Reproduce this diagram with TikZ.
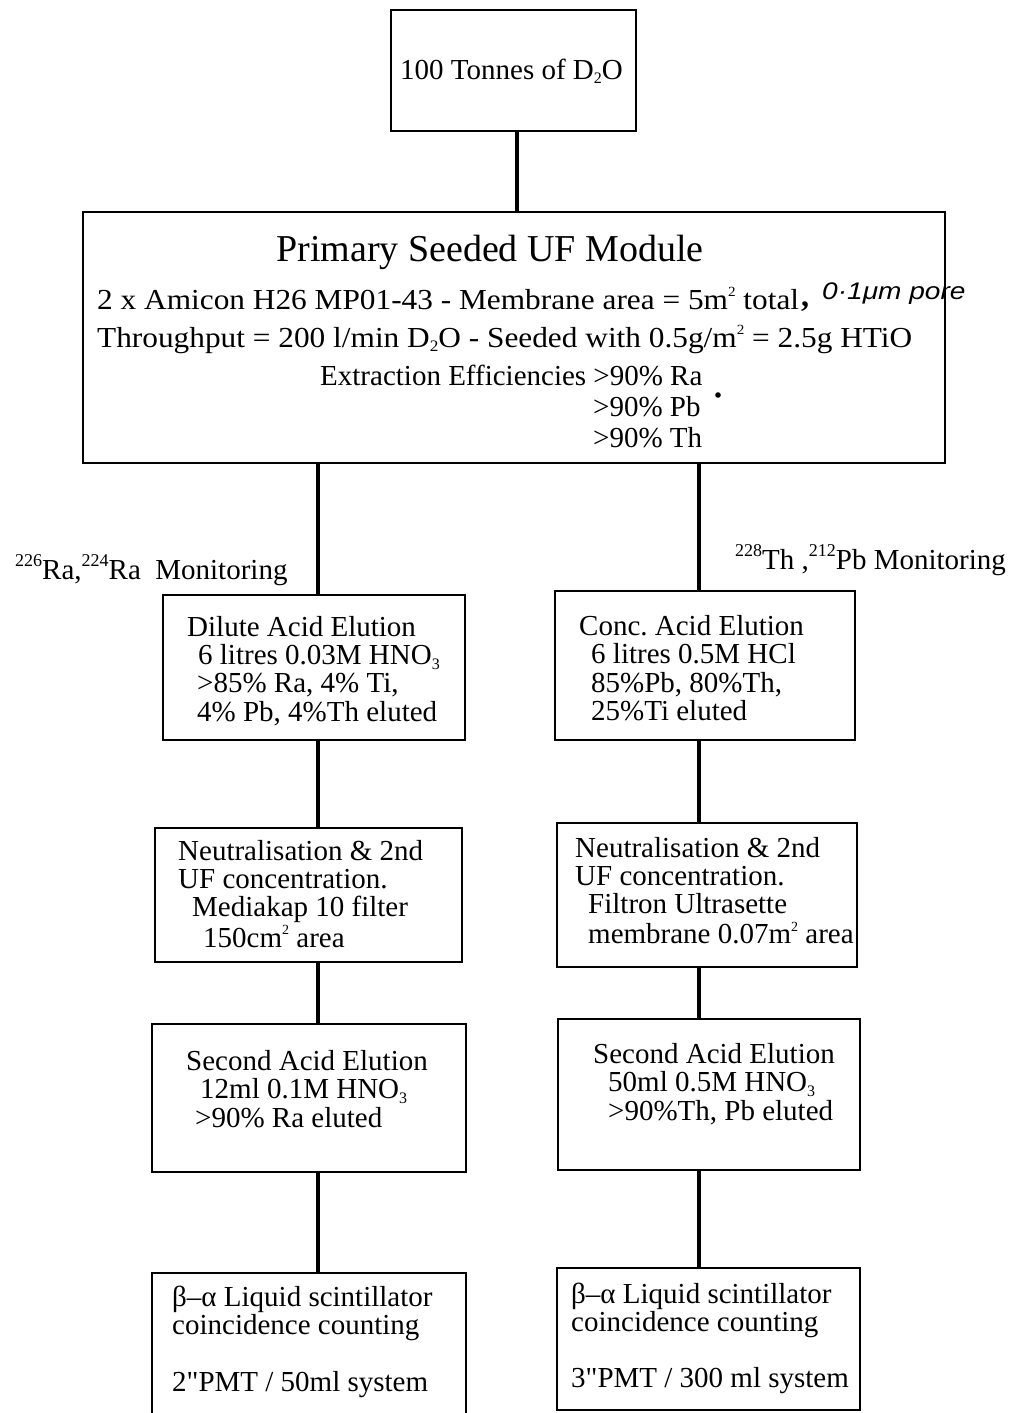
\documentclass[tikz,border=0pt]{standalone}
\usepackage{fontspec}
\setmainfont{Liberation Serif}
\newfontfamily\handfont{Liberation Sans}
\newfontfamily\qfont{Liberation Serif}[Ligatures=TeXOff]
\newcommand\tsup[1]{\raisebox{0.95ex}{\fontsize{14}{14}\selectfont #1}}
\newcommand\tsupb[1]{\raisebox{0.95ex}{\fontsize{18}{18}\selectfont #1}}
\newcommand\tsub[1]{\raisebox{-0.35ex}{\fontsize{16}{16}\selectfont #1}}
\newcommand\qq{{\qfont"}}
\begin{document}
\frenchspacing
\begin{tikzpicture}[x=1pt,y=-1pt,
  box/.style={draw, line width=2pt, rectangle, inner sep=0pt},
  conn/.style={line width=4.5pt},
  txt/.style={anchor=base west, inner sep=0pt, font=\fontsize{29}{28}\selectfont},
  ttl/.style={anchor=base, inner sep=0pt, font=\fontsize{38}{40}\selectfont},
  hand/.style={anchor=base west, inner sep=0pt, font=\handfont\itshape\fontsize{24}{24}\selectfont}
]
\useasboundingbox (0,0) rectangle (1013,1413);
\fill[white] (0,0) rectangle (1013,1413);

% boxes
\node[box, minimum width=245pt, minimum height=121pt] (top) at (513.5,70.5) {};
\node[box, minimum width=862pt, minimum height=251pt] (primary) at (514,337.5) {};
\node[box, minimum width=302pt, minimum height=145pt] (dilute) at (314,667.5) {};
\node[box, minimum width=300pt, minimum height=149pt] (conc) at (705,665.5) {};
\node[box, minimum width=307pt, minimum height=134pt] (neutL) at (308.5,895) {};
\node[box, minimum width=300pt, minimum height=144pt] (neutR) at (707,895) {};
\node[box, minimum width=314pt, minimum height=148pt] (secL) at (309,1098) {};
\node[box, minimum width=302pt, minimum height=151pt] (secR) at (709,1094.5) {};
\node[box, minimum width=314pt, minimum height=147pt] (botL) at (309,1346.5) {};
\node[box, minimum width=303pt, minimum height=142pt] (botR) at (708.5,1339) {};

% connector columns
\coordinate (cT) at (517,0);
\coordinate (cL) at (318,0);
\coordinate (cR) at (699,0);

\draw[conn] (top.south -| cT) -- (primary.north -| cT);
\draw[conn] (primary.south -| cL) -- (dilute.north -| cL);
\draw[conn] (dilute.south -| cL) -- (neutL.north -| cL);
\draw[conn] (neutL.south -| cL) -- (secL.north -| cL);
\draw[conn] (secL.south -| cL) -- (botL.north -| cL);
\draw[conn] (primary.south -| cR) -- (conc.north -| cR);
\draw[conn] (conc.south -| cR) -- (neutR.north -| cR);
\draw[conn] (neutR.south -| cR) -- (secR.north -| cR);
\draw[conn] (secR.south -| cR) -- (botR.north -| cR);

% texts
\node[txt] (tTop) at (400,79) {100 Tonnes of D\tsub{2}O};

\node[ttl] (tTitle) at (490,261) {Primary Seeded UF Module};
\node[txt] (tP1) at (97,309) {\scalebox{1.08}[1]{2 x Amicon H26 MP01-43 - Membrane area = 5m\tsup{2} total}};
\node[txt, font=\bfseries\fontsize{32}{28}\selectfont] (tComma) at (801,306) {,};
\node[hand] (tHand) at (822,299) {\scalebox{1.17}[1]{0·1μm pore}};
\node[txt] (tP2) at (97,347) {\scalebox{1.08}[1]{Throughput = 200 l/min D\tsub{2}O - Seeded with 0.5g/m\tsup{2} = 2.5g HTiO}};
\node[txt] (tP3) at (320,385) {Extraction Efficiencies >90\% Ra};
\node[txt] (tP4) at (593,416) {>90\% Pb};
\node[txt] (tP5) at (593,447) {>90\% Th};
\fill (718,395) circle (2.8);

\node[txt] (monL) at (15,579) {\tsupb{226}Ra,\tsupb{224}Ra\ \ Monitoring};
\node[txt] (monR) at (735,569) {\tsupb{228}Th ,\tsupb{212}Pb Monitoring};

\node[txt] (tDil) at (187,636) {\begin{tabular}[t]{@{}l@{}}Dilute Acid Elution\\
\hspace*{11pt}6 litres 0.03M HNO\tsub{3}\\
\hspace*{10pt}>85\% Ra, 4\% Ti,\\
\hspace*{10pt}4\% Pb, 4\%Th eluted\end{tabular}};

\node[txt] (tConc) at (579,635) {\begin{tabular}[t]{@{}l@{}}Conc. Acid Elution\\
\hspace*{12pt}6 litres 0.5M HCl\\
\hspace*{12pt}85\%Pb, 80\%Th,\\
\hspace*{12pt}25\%Ti eluted\end{tabular}};

\node[txt] (tNeuL) at (178,860) {\begin{tabular}[t]{@{}l@{}}Neutralisation \& 2nd\\
UF concentration.\\
\hspace*{14pt}Mediakap 10 filter\\
\hspace*{25pt}150cm\tsup{2} area\end{tabular}};

\node[txt] (tNeuR) at (575,857) {\begin{tabular}[t]{@{}l@{}}Neutralisation \& 2nd\\
UF concentration.\\
\hspace*{13pt}Filtron Ultrasette\\
\hspace*{13pt}membrane 0.07m\tsup{2} area\end{tabular}};

\node[txt] (tSecL) at (186,1070) {\begin{tabular}[t]{@{}l@{}}Second Acid Elution\\
\hspace*{14pt}12ml 0.1M HNO\tsub{3}\\
\hspace*{9pt}>90\% Ra eluted\end{tabular}};

\node[txt] (tSecR) at (593,1063) {\begin{tabular}[t]{@{}l@{}}Second Acid Elution\\
\hspace*{15pt}50ml 0.5M HNO\tsub{3}\\
\hspace*{15pt}>90\%Th, Pb eluted\end{tabular}};

\node[txt] (tBotL) at (172,1306) {\begin{tabular}[t]{@{}l@{}}β–α Liquid scintillator\\
coincidence counting\\[28pt]
2\qq PMT / 50ml system\end{tabular}};

\node[txt] (tBotR) at (571,1303) {\begin{tabular}[t]{@{}l@{}}β–α Liquid scintillator\\
coincidence counting\\[27pt]
3\qq PMT / 300 ml system\end{tabular}};
\end{tikzpicture}
\end{document}
